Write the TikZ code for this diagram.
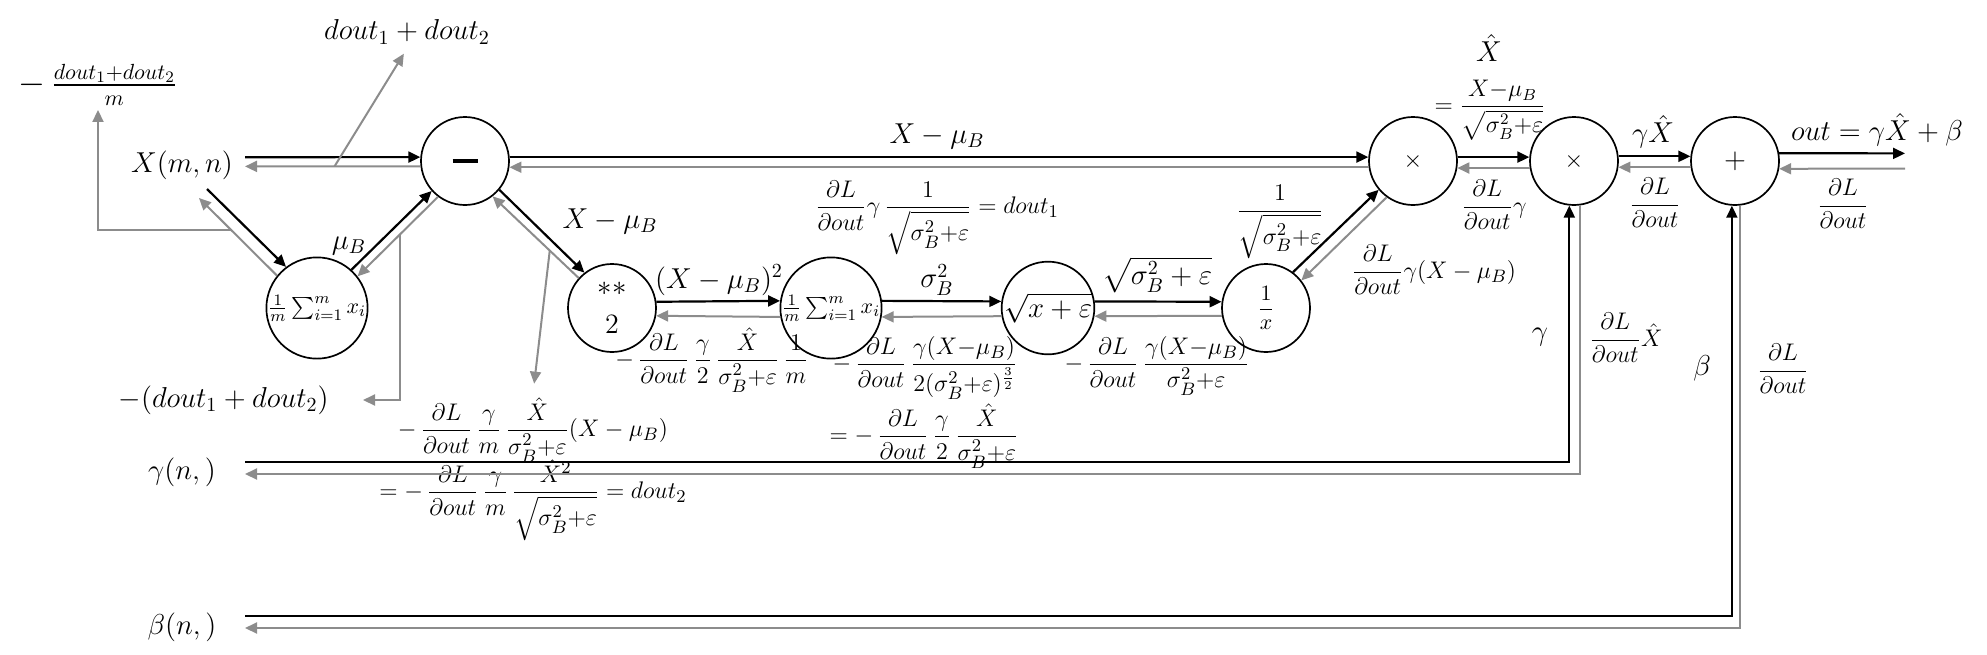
\documentclass[tikz,border=0pt]{standalone}
\usepackage{amsmath}
\usetikzlibrary{arrows.meta}
\definecolor{gl}{RGB}{140,140,140}
\newcommand{\dLo}{\dfrac{\partial L}{\partial out}}
\newcommand{\sige}{\sigma_B^2{+}\varepsilon}
\begin{document}
\begin{tikzpicture}[x=0.5pt,y=-0.5pt,
  op/.style={circle,draw,line width=0.85pt,minimum size=44pt,inner sep=0pt},
  lab/.style={font=\fontsize{14}{17}\selectfont,inner sep=2pt},
  flab/.style={font=\fontsize{13}{16}\selectfont,inner sep=2pt},
  tip/.style={-{Triangle[length=6pt,width=5.5pt]}},
  fw/.style={line width=1.1pt,tip},
  bw/.style={line width=1pt,draw=gl,tip}]
\useasboundingbox (0,0) rectangle (1987,654);

% operation nodes
\node[op] (minus) at (465,161) {\rule{12.5pt}{1.8pt}};
\node[op] (mean) at (317,308) {\fontsize{11}{13}\selectfont$\frac{1}{m}\sum_{i=1}^{m}x_i$};
\node[op,align=center,font=\fontsize{14}{19}\selectfont] (sq) at (612,308) {$**$\\2};
\node[op] (sum) at (831,308) {\fontsize{11}{13}\selectfont$\frac{1}{m}\sum_{i=1}^{m}x_i$};
\node[op] (sqr) at (1048,308) {\fontsize{14}{17}\selectfont$\sqrt{x+\varepsilon}$};
\node[op] (inv) at (1266,308) {\fontsize{11}{13}\selectfont$\dfrac{1}{x}$};
\node[op] (mulA) at (1413,161) {\fontsize{13}{15}\selectfont$\times$};
\node[op] (mulB) at (1574,161) {\fontsize{13}{15}\selectfont$\times$};
\node[op] (plus) at (1735,161) {\fontsize{14}{16}\selectfont$+$};

% labels
\node[lab] (Xl) at (182,165) {$X(m,n)$};
\node[lab] (d12) at (407,32) {$dout_1+dout_2$};
\node[font=\fontsize{16}{18}\selectfont,inner sep=2pt] (dm) at (98,85) {$-\,\frac{dout_1+dout_2}{m}$};
\node[lab] (mu) at (349,246) {$\mu_B$};
\node[lab,anchor=east] (nd) at (333,400) {$-(dout_1+dout_2)$};
\node[lab] (xmuA) at (937,136) {$X-\mu_B$};
\node[lab] (xmuB) at (610,221) {$X-\mu_B$};
\node[flab] (dA) at (937,218) {$\dLo\gamma\,\dfrac{1}{\sqrt{\sige}}=dout_1$};
\node[lab] (xsq) at (719,280) {$(X-\mu_B)^2$};
\node[lab] (sg) at (937,280) {$\sigma_B^2$};
\node[lab] (sqe) at (1157,275) {$\sqrt{\sigma_B^2+\varepsilon}$};
\node[flab] (lA) at (712,360) {$-\,\dLo\,\dfrac{\gamma}{2}\,\dfrac{\hat{X}}{\sige}\,\dfrac{1}{m}$};
\node[flab] (lB) at (925,368) {$-\,\dLo\,\dfrac{\gamma(X{-}\mu_B)}{2(\sige)^{\frac{3}{2}}}$};
\node[flab] (lC) at (924,436) {$=-\,\dLo\,\dfrac{\gamma}{2}\,\dfrac{\hat{X}}{\sige}$};
\node[flab] (lD) at (1157,366) {$-\,\dLo\,\dfrac{\gamma(X{-}\mu_B)}{\sige}$};
\node[flab] (lE) at (1280,222) {$\dfrac{1}{\sqrt{\sige}}$};
\node[flab] (lF) at (1434,270) {$\dLo\gamma(X-\mu_B)$};
\node[lab] (xh) at (1489,48) {$\hat{X}$};
\node[font=\fontsize{12}{14}\selectfont,inner sep=2pt] (lG) at (1490,110) {$=\dfrac{X{-}\mu_B}{\sqrt{\sige}}$};
\node[flab] (lH) at (1494,205) {$\dLo\gamma$};
\node[lab] (gxh) at (1653,132) {$\gamma\hat{X}$};
\node[flab] (lI) at (1655,203) {$\dLo$};
\node[lab] (outl) at (1877,130) {$out=\gamma\hat{X}+\beta$};
\node[flab] (lJ) at (1843,204) {$\dLo$};
\node[lab] (gam) at (1540,337) {$\gamma$};
\node[flab] (lK) at (1626,338) {$\dLo\hat{X}$};
\node[lab] (bet) at (1702,368) {$\beta$};
\node[flab] (lL) at (1783,369) {$\dLo$};
\node[flab] (lM) at (533,430) {$-\,\dLo\,\dfrac{\gamma}{m}\,\dfrac{\hat{X}}{\sige}(X-\mu_B)$};
\node[flab] (lN) at (533,500) {$=-\,\dLo\,\dfrac{\gamma}{m}\,\dfrac{\hat{X}^2}{\sqrt{\sige}}=dout_2$};
\node[lab] (gn) at (182,472) {$\gamma(n,)$};
\node[lab] (bn) at (182,627) {$\beta(n,)$};

% free ends
\coordinate (xa) at (245,157.2);
\coordinate (xb) at (245,166.4);
\coordinate (xc) at (207,189);
\coordinate (xd) at (199,198);
\coordinate (ga) at (245,462);
\coordinate (gb) at (245,474);
\coordinate (ba) at (245,616);
\coordinate (bb) at (245,628);
\coordinate (oa) at (1905,153.4);
\coordinate (ob) at (1905,168.6);

% connectors
\draw[fw] (xa) -- (minus.175);
\draw[bw] (minus.187) -- coordinate[pos=0.49] (gx) (xb);
\draw[bw,shorten >=3pt] (gx) -- (d12.south);
\draw[fw] (xc) -- (mean.127);
\draw[bw] (mean.141) -- coordinate[pos=0.594] (g1) (xd);
\draw[bw] (g1) -| (dm.south);
\draw[fw] (mean.48) -- (minus.222);
\draw[bw] (minus.233) -- coordinate[pos=0.478] (g2) (mean.38);
\draw[bw,shorten >=15pt] (g2) |- (nd.east);
\draw[fw] (minus.-40) -- (sq.128);
\draw[bw] (sq.138) -- coordinate[pos=0.336] (g3) (minus.-52);
\draw[bw,shorten >=5pt] (g3) -- (lM.north);
\draw[fw] (minus.5) -- (mulA.175);
\draw[bw] (mulA.-172) -- (minus.-8);
\draw[fw] (sq.8) -- (sum.172);
\draw[bw] (sum.-170) -- (sq.-10);
\draw[fw] (sum.8) -- (sqr.172);
\draw[bw] (sqr.-170) -- (sum.-10);
\draw[fw] (sqr.8) -- (inv.172);
\draw[bw] (inv.-170) -- (sqr.-10);
\draw[fw] (inv.53) -- (mulA.220);
\draw[bw] (mulA.234) -- (inv.38);
\draw[fw] (mulA.5) -- (mulB.175);
\draw[bw] (mulB.-171) -- (mulA.-9);
\draw[fw] (mulB.6) -- (plus.174);
\draw[bw] (plus.-172) -- (mulB.-8);
\draw[fw] (plus.10) -- (oa);
\draw[bw] (ob) -- (plus.-10);
\draw[fw] (ga) -| (mulB.264);
\draw[bw] (mulB.-82) |- (gb);
\draw[fw] (ba) -| (plus.266);
\draw[bw] (plus.-84) |- (bb);
\end{tikzpicture}
\end{document}
